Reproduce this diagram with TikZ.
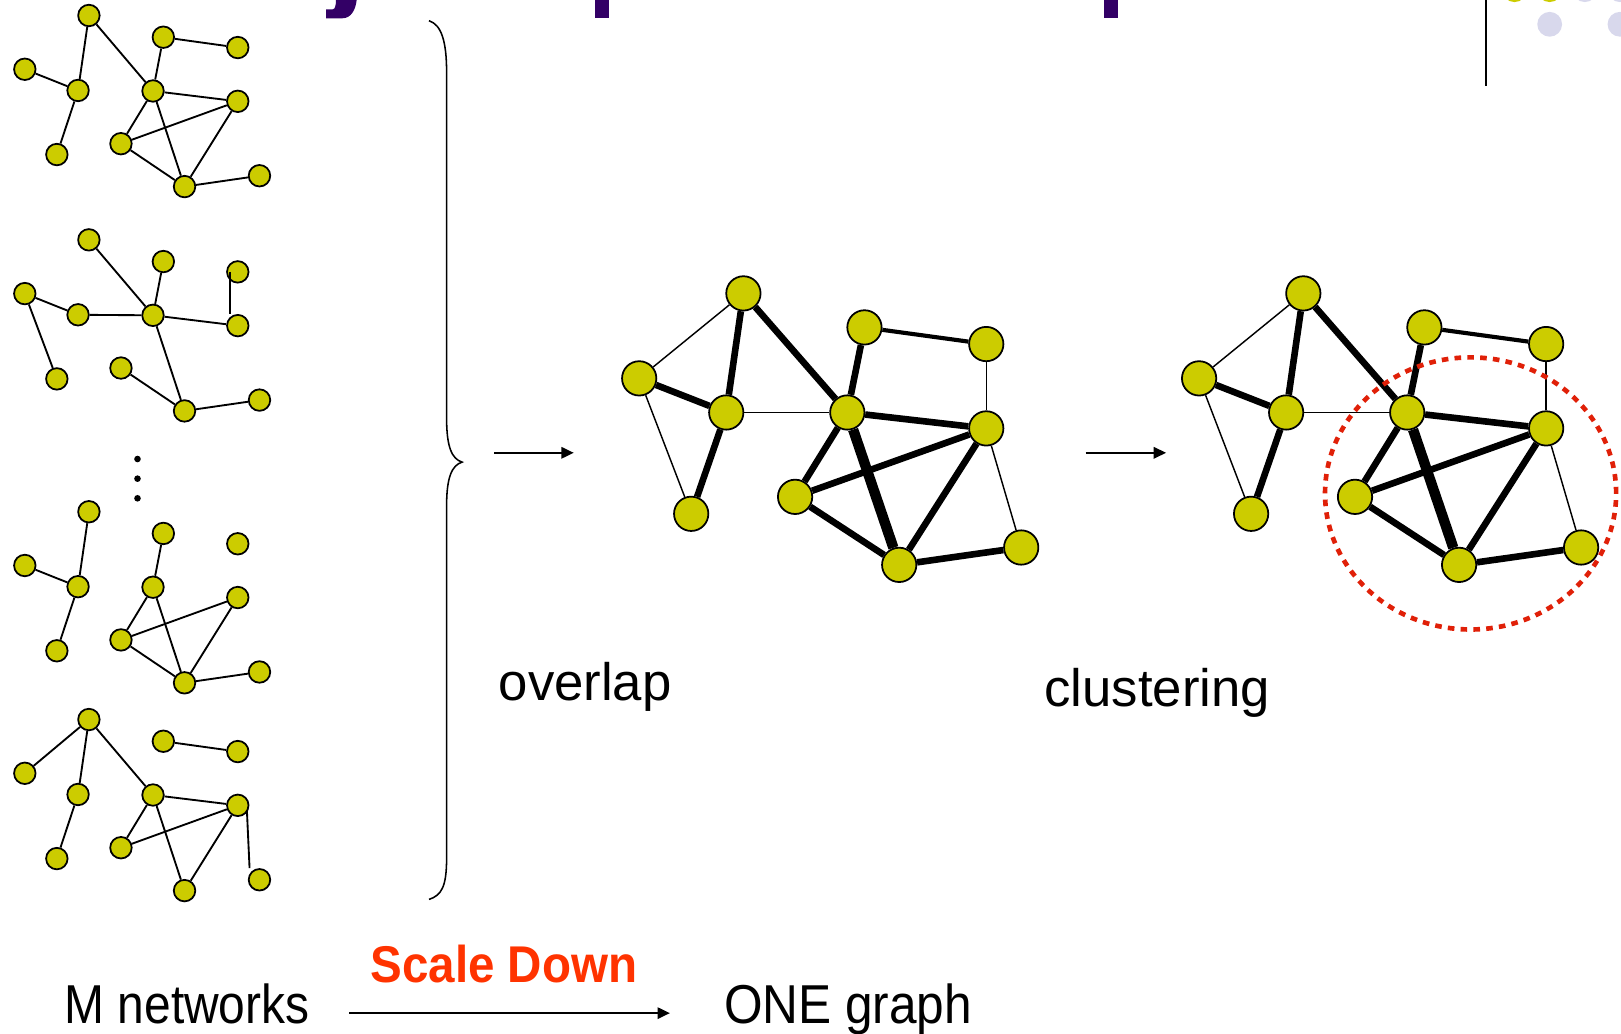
\documentclass[tikz,border=0pt]{standalone}
\usepackage{fontspec}
\usepackage{graphicx}
\setmainfont{Liberation Sans}
\usetikzlibrary{arrows.meta,backgrounds}
\definecolor{nodeyel}{RGB}{204,204,0}
\definecolor{titlepurple}{RGB}{51,0,102}
\definecolor{lav}{RGB}{216,216,236}
\definecolor{clred}{RGB}{224,32,8}
\definecolor{scalered}{RGB}{255,51,0}

\newcommand\mksmallgraph[2]{%
  \node[snode] (#1A) at (86,{15+#2}) {};
  \node[snode] (#1B) at (158,{36+#2}) {};
  \node[snode] (#1C) at (230,{46+#2}) {};
  \node[snode] (#1D) at (24,{67+#2}) {};
  \node[snode] (#1E) at (75.5,{87.5+#2}) {};
  \node[snode] (#1F) at (148,{88+#2}) {};
  \node[snode] (#1G) at (230,{98+#2}) {};
  \node[snode] (#1H) at (117,{139+#2}) {};
  \node[snode] (#1I) at (55,{149.5+#2}) {};
  \node[snode] (#1J) at (178.5,{180.5+#2}) {};
  \node[snode] (#1K) at (251,{170+#2}) {};
}
\newcommand\mkbiggraph[2]{%
  \node[bnode] (#1P1) at ({719.1+#2},283.8) {};
  \node[bnode] (#1P2) at ({618.3+#2},366) {};
  \node[bnode] (#1P3) at ({702.5+#2},399) {};
  \node[bnode] (#1P4) at ({668.6+#2},497) {};
  \node[bnode] (#1Q1) at ({836.2+#2},316.7) {};
  \node[bnode] (#1Q2) at ({954+#2},332.8) {};
  \node[bnode] (#1Q3) at ({819.6+#2},399) {};
  \node[bnode] (#1Q4) at ({954+#2},414.4) {};
  \node[bnode] (#1Q5) at ({769.1+#2},480.6) {};
  \node[bnode] (#1Q6) at ({869.8+#2},546.4) {};
  \node[bnode] (#1Q7) at ({987.8+#2},529.6) {};
}
\newcommand\mkbigedges[1]{%
  \foreach \a/\b in {P1/P2,P2/P4,P3/Q3,Q2/Q4,Q4/Q7} \draw[bthin] (#1\a) -- (#1\b);
  \draw[bmed] (#1Q1) -- (#1Q2);
  \foreach \a/\b in {P1/P3,P1/Q3,P2/P3,P3/P4,Q1/Q3,Q3/Q4,Q3/Q5,Q4/Q5,Q4/Q6,Q5/Q6,Q6/Q7} \draw[bthick] (#1\a) -- (#1\b);
  \draw[bvthick] (#1Q3) -- (#1Q6);
}

\begin{document}
\begin{tikzpicture}[x=0.5pt,y=-0.5pt,
  snode/.style={circle,draw=black,line width=0.85pt,fill=nodeyel,minimum size=10.4pt,inner sep=0pt},
  bnode/.style={circle,draw=black,line width=0.85pt,fill=nodeyel,minimum size=16.6pt,inner sep=0pt},
  sedge/.style={line width=0.9pt,black},
  bthin/.style={line width=0.7pt,black},
  bmed/.style={line width=2pt,black},
  bthick/.style={line width=3.2pt,black},
  bvthick/.style={line width=5pt,black},
  arr/.style={line width=1pt,-{Triangle[length=6pt,width=5.5pt]}},
  lbl/.style={anchor=base west,inner sep=0pt,font=\fontsize{25.5pt}{30pt}\selectfont},
  bottomtxt/.style={anchor=base west,inner sep=0pt,font=\fontsize{26.5pt}{30pt}\selectfont},
  bracestyle/.style={line width=0.75pt,black}
]
\clip (0,0) rectangle (1568,1000);

% title fragments
\fill[titlepurple] (325,0) -- (345,0) .. controls (344,9) and (340,17.7) .. (331,17.7) -- (315.5,17.7) -- (315.5,9) -- (322,9) .. controls (324,9) and (325,5) .. (325,0) -- cycle;
\fill[titlepurple] (575.5,0) rectangle (589,17);
\fill[titlepurple] (1068,0) rectangle (1081,17);

% top-right decoration
\draw[line width=1pt] (1437.5,0) -- (1437.5,83);
\fill[nodeyel] (1465,-10) circle[radius=6pt];
\fill[nodeyel] (1499,-10) circle[radius=6pt];
\fill[lav] (1533,-10) circle[radius=6pt];
\fill[lav] (1567,-10) circle[radius=6pt];
\fill[lav] (1499,23.5) circle[radius=6pt];
\fill[lav] (1567,23.5) circle[radius=6pt];

% small graphs
\mksmallgraph{ga}{0}
\mksmallgraph{gb}{217}
\mksmallgraph{gc}{480}
\mksmallgraph{gd}{681}

\begin{pgfonlayer}{background}
\foreach \a/\b in {A/E,D/E,E/I,A/F,B/F,B/C,F/G,F/H,F/J,H/G,H/J,G/J,J/K} \draw[sedge] (ga\a) -- (ga\b);
\foreach \a/\b in {A/F,B/F,D/E,D/I,E/F,F/G,F/J,H/J,J/K} \draw[sedge] (gb\a) -- (gb\b);
\foreach \a/\b in {A/E,D/E,E/I,B/F,F/H,F/J,H/G,H/J,G/J,J/K} \draw[sedge] (gc\a) -- (gc\b);
\foreach \a/\b in {A/D,A/E,E/I,A/F,B/C,F/G,F/H,F/J,H/G,G/J} \draw[sedge] (gd\a) -- (gd\b);
\draw[sedge] ([xshift=4.3pt]gdG.center) -- ([xshift=-4.8pt]gdK.north);
\end{pgfonlayer}
\draw[sedge] ([xshift=-3.7pt]gbC.center) -- ([xshift=-3.7pt]gbG.north);

% vertical dots
\fill (133,444) circle[radius=1.6pt];
\fill (133,463) circle[radius=1.6pt];
\fill (133,482) circle[radius=1.6pt];

% brace
\draw[bracestyle] (415,20) .. controls (427,24) and (432,40) .. (432,70) -- (432,405) .. controls (432,432) and (437,444) .. (447,447) .. controls (437,450) and (432,462) .. (432,489) -- (432,830) .. controls (432,858) and (427,866) .. (415,870);

% big graphs
\mkbiggraph{m}{0}
\mkbiggraph{r}{541.6}
\begin{pgfonlayer}{background}
\mkbigedges{m}
\mkbigedges{r}
\end{pgfonlayer}

% cluster circle
\draw[clred,line width=2.25pt,dash pattern=on 3.2pt off 3pt] (1422.5,477.3) ellipse [x radius=70.4pt,y radius=65.8pt];

% arrows
\coordinate (a1s) at (478,438);
\coordinate (a1e) at (555,438);
\coordinate (a2s) at (1050,438);
\coordinate (a2e) at (1128,438);
\coordinate (b1s) at (338,980);
\coordinate (b1e) at (648,980);
\draw[arr] (a1s) -- (a1e);
\draw[arr] (a2s) -- (a2e);
\draw[arr] (b1s) -- (b1e);

% labels
\node[lbl] (tov) at (482,678) {overlap};
\node[lbl] (tcl) at (1010,683) {clustering};
\node[bottomtxt] (tm) at (62,990) {\scalebox{0.875}[1]{M networks}};
\node[bottomtxt] (tone) at (700,990) {\scalebox{0.905}[1]{ONE graph}};
\node[anchor=base west,inner sep=0pt,font=\fontsize{25pt}{30pt}\selectfont\bfseries,text=scalered] (tsd) at (358,950) {\scalebox{0.92}[1]{Scale Down}};
\end{tikzpicture}
\end{document}
